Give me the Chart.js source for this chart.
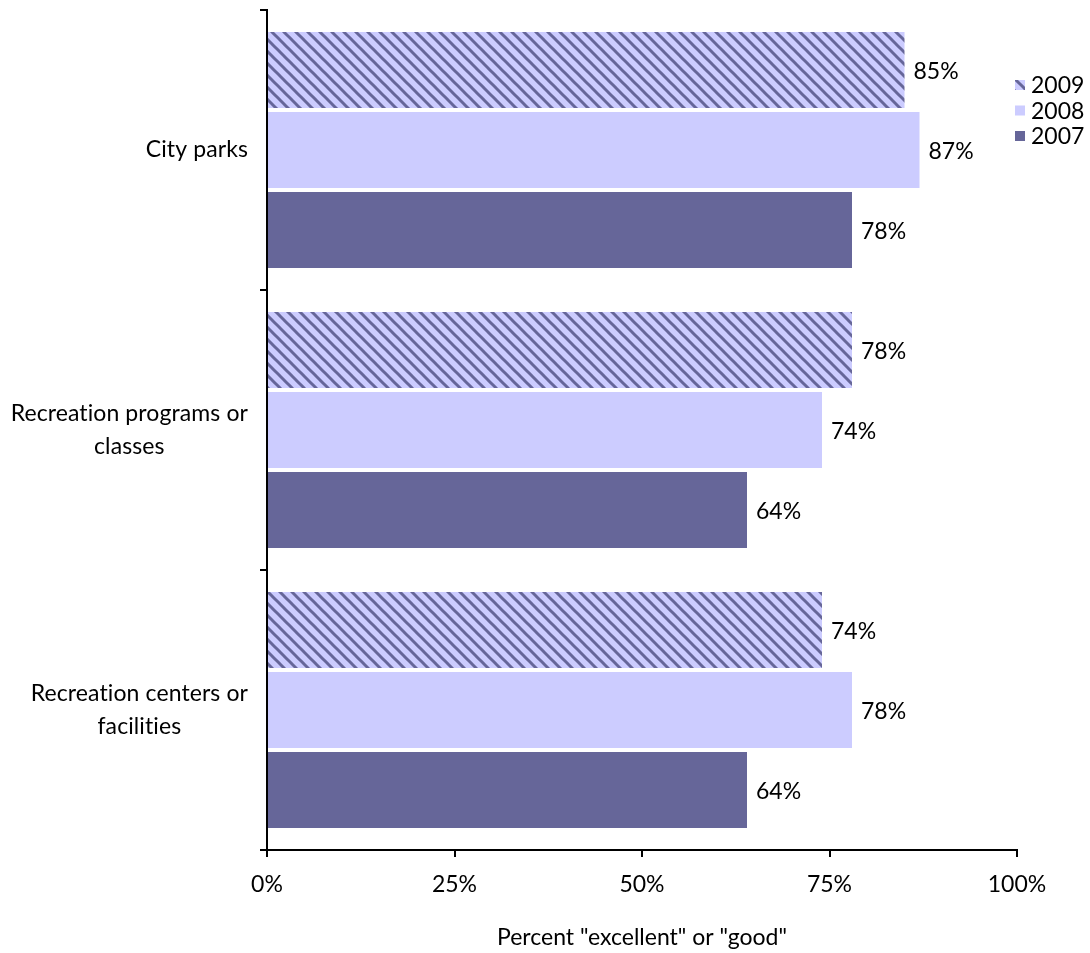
<!DOCTYPE html>
<html>
<head>
<meta charset="utf-8">
<script src="https://cdn.jsdelivr.net/npm/chart.js@4/dist/chart.umd.min.js"></script>
<style>
  html, body { margin: 0; padding: 0; background: #fff; }
  #wrap { width: 1090px; height: 953px; }
</style>
</head>
<body>
<div id="wrap"><canvas id="chart" width="1090" height="953"></canvas></div>
<script>
const categories = [
  ["City parks"],
  ["Recreation programs or", "classes"],
  ["Recreation centers or", "facilities"],
];
const years = ["2009", "2008", "2007"];
const values2009 = [85, 78, 74];
const values2008 = [87, 74, 78];
const values2007 = [78, 64, 64];
const xTicks = [0, 25, 50, 75, 100];

const FONT = "Lato, 'Open Sans', sans-serif";
const LIGHT = "#ccccff";
const DARK = "#666699";

function makeStripes() {
  const c = document.createElement("canvas");
  c.width = 12;
  c.height = 12;
  const g = c.getContext("2d");
  g.fillStyle = LIGHT;
  g.fillRect(0, 0, 12, 12);
  g.strokeStyle = DARK;
  g.lineWidth = 3;
  for (const off of [-12, 0, 12]) {
    g.beginPath();
    g.moveTo(off - 2, -2);
    g.lineTo(off + 14, 14);
    g.stroke();
  }
  return g.createPattern(c, "repeat");
}
const stripes = makeStripes();

// value labels at the bar ends
const barLabels = {
  id: "barLabels",
  afterDatasetsDraw(chart) {
    const ctx = chart.ctx;
    ctx.save();
    ctx.font = "23px " + FONT;
    ctx.fillStyle = "#000";
    ctx.textAlign = "left";
    ctx.textBaseline = "middle";
    chart.data.datasets.forEach((ds, i) => {
      chart.getDatasetMeta(i).data.forEach((bar, j) => {
        ctx.fillText(ds.data[j] + "%", bar.x + 9, bar.y + 2);
      });
    });
    ctx.restore();
  },
};

// category labels: block right-aligned, lines centred inside the block
const catLabels = {
  id: "catLabels",
  afterDraw(chart) {
    const ctx = chart.ctx;
    const y = chart.scales.y;
    ctx.save();
    ctx.font = "23px " + FONT;
    ctx.letterSpacing = "0.1px"; // no "ti" ligature
    ctx.fillStyle = "#000";
    ctx.textAlign = "center";
    ctx.textBaseline = "middle";
    const lh = 33;
    categories.forEach((lines, i) => {
      const w = Math.max(...lines.map((l) => ctx.measureText(l).width));
      const cx = 248 - w / 2;
      const cy = y.getPixelForValue(i);
      const top = cy - (lines.length - 1) * lh / 2;
      lines.forEach((l, k) => ctx.fillText(l, cx, top + k * lh));
    });
    ctx.restore();
  },
};

// legend on the right
const sideLegend = {
  id: "sideLegend",
  afterDraw(chart) {
    const ctx = chart.ctx;
    ctx.save();
    ctx.font = "23px " + FONT;
    ctx.textAlign = "left";
    ctx.textBaseline = "middle";
    chart.data.datasets.forEach((ds, i) => {
      const cy = 85 + i * 25.5;
      ctx.fillStyle = ds.backgroundColor;
      ctx.fillRect(1015, cy - 5, 10, 10);
      ctx.fillStyle = "#000";
      ctx.fillText(ds.label, 1031, cy + 1);
    });
    ctx.restore();
  },
};

const ctx = document.getElementById("chart").getContext("2d");
const myChart = new Chart(ctx, {
  type: "bar",
  data: {
    labels: categories.map((c) => c.join(" ")),
    datasets: [
      {label: years[0], data: values2009, backgroundColor: stripes},
      {label: years[1], data: values2008, backgroundColor: LIGHT},
      {label: years[2], data: values2007, backgroundColor: DARK},
    ],
  },
  options: {
    indexAxis: "y",
    responsive: false,
    animation: false,
    categoryPercentage: 240 / 280,
    barPercentage: 0.95,
    layout: {padding: {top: 10, right: 73, left: 0, bottom: 0}},
    plugins: {
      legend: {display: false},
      tooltip: {enabled: false},
    },
    scales: {
      x: {
        min: 0,
        max: 100,
        afterBuildTicks: (scale) => {
          scale.ticks = xTicks.map((v) => ({value: v}));
        },
        afterFit: (scale) => {
          scale.height = 103;
        },
        ticks: {
          callback: (v) => v + "%",
          color: "#000",
          font: {family: FONT, size: 23},
          padding: 14,
          maxRotation: 0,
        },
        grid: {
          drawOnChartArea: false,
          drawTicks: true,
          tickLength: 7,
          color: "#000",
          lineWidth: 2,
        },
        border: {color: "#000", width: 2},
        title: {
          display: true,
          text: "Percent \"excellent\" or \"good\"",
          color: "#000",
          font: {family: FONT, size: 23},
          padding: {top: 0, bottom: 2},
        },
      },
      y: {
        offset: true,
        afterFit: (scale) => {
          scale.width = 267;
        },
        ticks: {display: false},
        grid: {
          offset: true,
          drawOnChartArea: false,
          drawTicks: true,
          tickLength: 7,
          color: "#000",
          lineWidth: 2,
        },
        border: {color: "#000", width: 2},
      },
    },
  },
  plugins: [barLabels, catLabels, sideLegend],
});
</script>
</body>
</html>
